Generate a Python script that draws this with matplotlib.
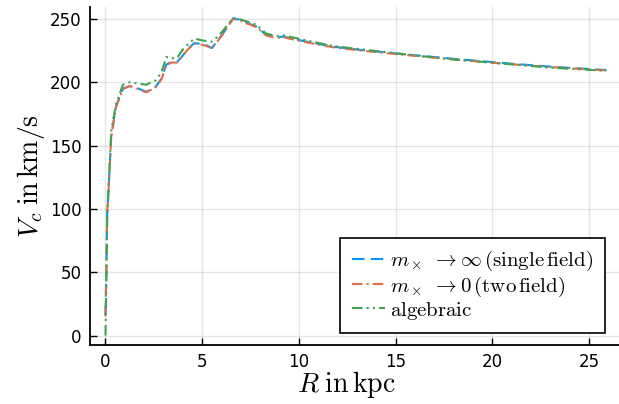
import numpy as np
import matplotlib.pyplot as plt

plt.rcParams['mathtext.fontset'] = 'cm'

# radius in kpc
R = [0.0, 0.05, 0.09, 0.13, 0.3, 0.55, 0.9, 1.25, 1.7, 2.1, 2.6, 2.9, 3.15, 3.4,
     3.7, 4.0, 4.2, 4.6, 5.0, 5.25, 5.5, 5.8, 6.1, 6.35, 6.6, 6.9, 7.3, 7.8,
     8.3, 8.8, 9.2, 10.4, 11.8, 13.2, 15.5, 18.0, 20.7, 23.0, 25.9]

# circular velocity in km/s
V_single = [16, 55, 99, 107, 158, 181, 195, 197, 195, 192.5, 196.5, 203, 214, 216,
            216, 221, 225.5, 231, 230, 229, 227, 233, 239, 245, 250.5, 249.5, 247, 244,
            237.5, 235.5, 236, 232, 228, 225.5, 222, 218.5, 215, 212.3, 209.6]
V_two = [15, 54, 98, 106, 157, 180.5, 194.5, 197, 194.5, 192, 196, 202.5, 213.5, 215.5,
         215.5, 220.5, 225, 230.5, 229.5, 228.5, 226.5, 232.5, 238.5, 244.5, 250, 249, 246.5, 243.5,
         237, 235, 235.5, 231.5, 227.5, 225, 221.5, 218, 214.5, 212, 209.3]
V_alg = [0, 45, 95, 107, 162, 183, 198, 200, 199, 198, 201.5, 208, 220, 219,
         219, 226, 229, 234.5, 233, 232.5, 232, 236, 241, 246, 250.5, 250, 248, 245.5,
         238.5, 236.5, 237, 233, 228.5, 226, 222, 218, 214.5, 211.5, 209]

fig = plt.figure(figsize=(6.19, 4.04), dpi=100)
ax = fig.add_axes([0.1454, 0.146, 0.856, 0.837])

ax.plot(R, V_single, color='#009AFA', lw=1.5, ls=(0, (6, 3)),
        label=r'$m_\times\ \to\infty\,(\mathrm{single\,field})$')
ax.plot(R, V_two, color='#E36F47', lw=1.5, ls=(0, (5, 2, 1, 2)),
        label=r'$m_\times\ \to0\,(\mathrm{two\,field})$')
ax.plot(R, V_alg, color='#3EA44E', lw=1.5, ls=(0, (5, 2, 1, 2, 1, 2)),
        label=r'$\mathrm{algebraic}$')

ax.set_xlim(-0.8, 26.6)
ax.set_ylim(-7.5, 259.5)
ax.set_xticks([0, 5, 10, 15, 20, 25])
ax.set_yticks([0, 50, 100, 150, 200, 250])
ax.grid(True, color='black', alpha=0.1, lw=1)
ax.tick_params(direction='in', length=5, width=1, labelsize=12, pad=6)
for s in ['top', 'right']:
    ax.spines[s].set_visible(False)
for s in ['left', 'bottom']:
    ax.spines[s].set_linewidth(1.3)

ax.set_xlabel(r'$R\;\mathrm{in\,kpc}$', fontsize=20, labelpad=0)
ax.xaxis.set_label_coords(0.484, -0.07)
ax.set_ylabel(r'$V_c\;\mathrm{in\,km/s}$', fontsize=20, labelpad=2)

leg = ax.legend(loc='lower right', fontsize=15, frameon=True, fancybox=False,
                edgecolor='black', framealpha=1, handlelength=1.6, handletextpad=0.25,
                labelspacing=0.05, borderpad=0.55, borderaxespad=0,
                bbox_to_anchor=(0.9716, 0.0355))
leg.get_frame().set_linewidth(1.2)

fig.savefig('out.png', dpi=100)
